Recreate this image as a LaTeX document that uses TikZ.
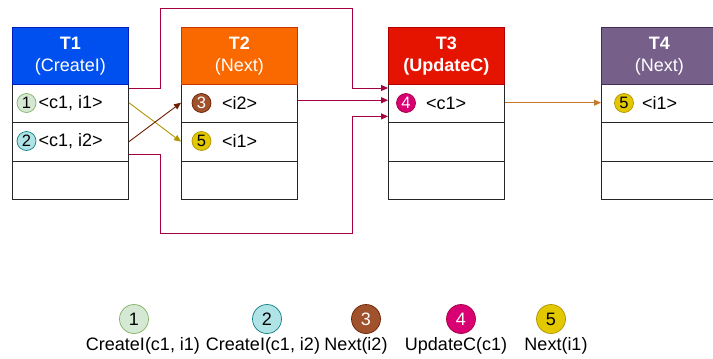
\documentclass[tikz,border=0pt]{standalone}
\usepackage{fontspec}
\setmainfont{Liberation Sans}
\usetikzlibrary{arrows.meta,calc}

\definecolor{hblue}{HTML}{0050EF}\definecolor{hblueS}{HTML}{001DBC}
\definecolor{horange}{HTML}{FA6800}\definecolor{horangeS}{HTML}{C73500}
\definecolor{hred}{HTML}{E51400}\definecolor{hredS}{HTML}{B20000}
\definecolor{hpurple}{HTML}{76608A}\definecolor{hpurpleS}{HTML}{432D57}
\definecolor{cgreen}{HTML}{D5E8D4}\definecolor{cgreenS}{HTML}{82B366}
\definecolor{cteal}{HTML}{B0E3E6}\definecolor{ctealS}{HTML}{0E8088}
\definecolor{cbrown}{HTML}{A0522D}\definecolor{cbrownS}{HTML}{6D1F00}
\definecolor{cpink}{HTML}{D80073}\definecolor{cpinkS}{HTML}{A50040}
\definecolor{cgold}{HTML}{E3C800}\definecolor{cgoldS}{HTML}{B09500}
\definecolor{lorange}{HTML}{C8782C}

\begin{document}
\begin{tikzpicture}[x=1pt,y=-1pt,
  font=\fontsize{18}{22}\selectfont,
  hdr/.style={draw, line width=0.9pt, anchor=north west, minimum width=116pt,
    minimum height=56.5pt, inner sep=0pt, text=white, align=center},
  rowbox/.style={draw=black!85, line width=0.9pt, anchor=north west,
    minimum width=116pt, minimum height=38.5pt, inner sep=0pt},
  badge/.style={circle, draw, line width=0.7pt, minimum size=19pt, inner sep=0pt,
    font=\fontsize{16.5}{16.5}\selectfont},
  bigbadge/.style={badge, minimum size=29pt, font=\fontsize{18}{18}\selectfont},
  cell/.style={anchor=west, inner sep=0pt},
  legend/.style={inner sep=0pt},
  link/.style={line width=0.9pt, -{Triangle[length=7pt,width=6pt]}},
  mag/.style={link, draw=cpinkS},
]
\useasboundingbox (0,0) rectangle (713,359);

% four tables: header plus three rows each
\foreach \t/\x in {1/12, 2/181, 3/388, 4/601}{
  \node[rowbox] (t\t r1) at (\x,83)  {};
  \node[rowbox] (t\t r2) at (\x,122) {};
  \node[rowbox] (t\t r3) at (\x,160.5) {};
}
\node[hdr, fill=hblue, draw=hblueS]     (t1h) at (12,27)  {\textbf{T1}\\(CreateI)};
\node[hdr, fill=horange, draw=horangeS] (t2h) at (181,27) {\textbf{T2}\\(Next)};
\node[hdr, fill=hred, draw=hredS]       (t3h) at (388,27) {\textbf{T3}\\\textbf{(UpdateC)}};
\node[hdr, fill=hpurple, draw=hpurpleS] (t4h) at (601,27) {\textbf{T4}\\(Next)};

% row contents
\node[badge, fill=cgreen, draw=cgreenS] (b1) at (26.5,103) {1};
\node[cell] (c1) at (38.5,103) {<c1, i1>};
\node[badge, fill=cteal, draw=ctealS] (b2) at (26.5,141) {2};
\node[cell] (c2) at (38.5,141) {<c1, i2>};
\node[badge, fill=cbrown, draw=cbrownS, text=white] (b3) at (201.5,103) {3};
\node[cell] (c3) at (222,103) {<i2>};
\node[badge, fill=cgold, draw=cgoldS] (b5a) at (201.5,141) {5};
\node[cell] (c5a) at (222,141) {<i1>};
\node[badge, fill=cpink, draw=cpinkS, text=white] (b4) at (406,103) {4};
\node[cell] (c4) at (426,103) {<c1>};
\node[badge, fill=cgold, draw=cgoldS] (b5b) at (624,103) {5};
\node[cell] (c5b) at (642,103) {<i1>};

% bend points of the long routes
\coordinate (up1) at (160,8);
\coordinate (up2) at (352,8);
\coordinate (dn1) at (160,233);
\coordinate (dn2) at (352,233);

% routes into T3
\draw[mag] ([yshift=-5pt]t1r1.north east) -| (up1) -- (up2) |- ([yshift=-5pt]t3r1.north west);
\draw[mag] ([yshift=2.5pt]t2r1.east) -- ([yshift=2.5pt]t3r1.west);
\draw[mag] ([yshift=6.5pt]t1r2.south east) -| (dn1) -- (dn2) |- ([yshift=6pt]t3r1.south west);

% crossing arrows between T1 and T2
\draw[link, draw=cgoldS] (t1r1.east) -- (t2r2.west);
\draw[link, draw=cbrownS] (t1r2.east) -- (t2r1.west);

% T3 to T4
\draw[link, draw=lorange] (t3r1.east) -- (t4r1.west);

% legend
\node[bigbadge, fill=cgreen, draw=cgreenS] (l1) at (134,319) {1};
\node[bigbadge, fill=cteal, draw=ctealS] (l2) at (267,319) {2};
\node[bigbadge, fill=cbrown, draw=cbrownS, text=white] (l3) at (366,319) {3};
\node[bigbadge, fill=cpink, draw=cpinkS, text=white] (l4) at (461,319) {4};
\node[bigbadge, fill=cgold, draw=cgoldS] (l5) at (551,319) {5};
\node[legend] (n1) at (143,346) {CreateI(c1, i1)};
\node[legend] (n2) at (263,346) {CreateI(c1, i2)};
\node[legend] (n3) at (356,346) {Next(i2)};
\node[legend] (n4) at (456,346) {UpdateC(c1)};
\node[legend] (n5) at (556,346) {Next(i1)};
\end{tikzpicture}
\end{document}
